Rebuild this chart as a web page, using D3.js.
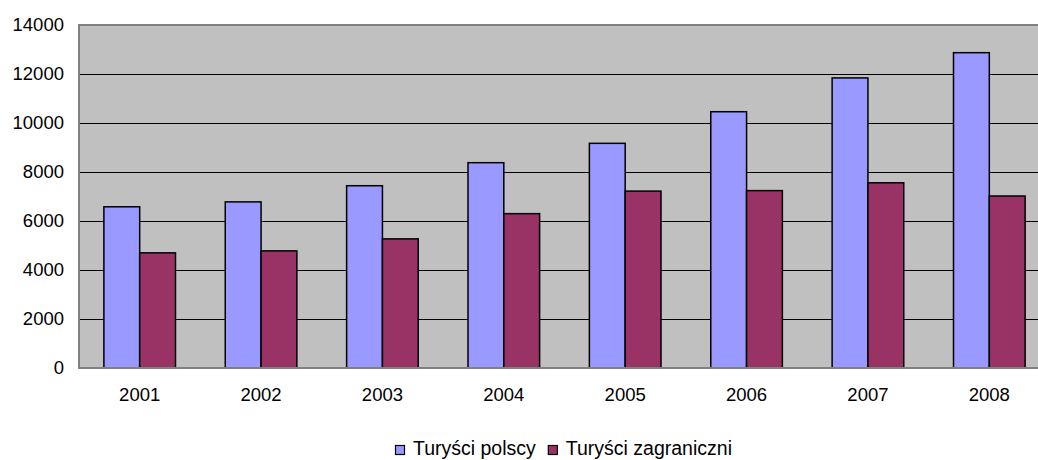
<!DOCTYPE html>
<html>
<head>
<meta charset="utf-8">
<script src="https://cdn.jsdelivr.net/npm/d3@7"></script>
<style>
  body { margin: 0; background: #fff; }
  svg { display: block; font-family: "Liberation Sans", Arial, sans-serif; }
</style>
</head>
<body>
<div id="chart"></div>
<script>
// Data
const years = ["2001", "2002", "2003", "2004", "2005", "2006", "2007", "2008"];
const polscy = [6580, 6780, 7440, 8380, 9170, 10460, 11840, 12870];
const zagraniczni = [4700, 4780, 5270, 6300, 7220, 7240, 7560, 7020];
const seriesNames = ["Turyści polscy", "Turyści zagraniczni"];
const yTicks = [0, 2000, 4000, 6000, 8000, 10000, 12000, 14000];

let width = 1038, height = 460;
let margin = { top: 25, bottom: 92, left: 79, right: -12 };

const colors = ["#9999FF", "#993366"];

let svg = d3.select("#chart")
            .append("svg")
            .attr("width", width)
            .attr("height", height);

// Scales
const x0 = d3.scaleBand()
             .domain(years)
             .range([margin.left, width - margin.right])
             .paddingInner(0.41)
             .paddingOuter(0.205);

const x1 = d3.scaleBand()
             .domain(seriesNames)
             .range([0, x0.bandwidth()]);

const y = d3.scaleLinear()
            .domain([0, 14000])
            .range([height - margin.bottom, margin.top]);

// Plot background
svg.append("rect")
   .attr("x", margin.left)
   .attr("y", margin.top)
   .attr("width", width - margin.right - margin.left)
   .attr("height", height - margin.bottom - margin.top)
   .attr("fill", "#C0C0C0");

// Gridlines
svg.selectAll("line.grid")
   .data(yTicks.filter(d => d > 0 && d < 14000))
   .enter()
   .append("line")
   .attr("class", "grid")
   .attr("x1", margin.left)
   .attr("x2", width - margin.right)
   .attr("y1", d => Math.round(y(d)) + 0.5)
   .attr("y2", d => Math.round(y(d)) + 0.5)
   .attr("stroke", "#000")
   .attr("stroke-width", 1);

// Bars
const rows = years.map((yr, i) => ({ year: yr, values: [polscy[i], zagraniczni[i]] }));

const groups = svg.selectAll("g.bar")
   .data(rows)
   .enter()
   .append("g")
   .attr("transform", d => `translate(${x0(d.year)},0)`);

groups.selectAll("rect")
   .data(d => d.values.map((v, k) => ({ name: seriesNames[k], value: v, k: k })))
   .enter()
   .append("rect")
   .attr("x", d => x1(d.name))
   .attr("y", d => y(d.value))
   .attr("width", x1.bandwidth())
   .attr("height", d => y(0) - y(d.value))
   .attr("fill", d => colors[d.k])
   .attr("stroke", "#000")
   .attr("stroke-width", 1.5);

// Plot border (top, left, bottom in gray)
svg.append("path")
   .attr("d", `M${width - margin.right},${margin.top} H${margin.left} V${height - margin.bottom} H${width - margin.right}`)
   .attr("fill", "none")
   .attr("stroke", "#808080")
   .attr("stroke-width", 2);

// Y axis
let yaxis = svg.append("g")
   .attr("transform", `translate(${margin.left - 15},0)`)
   .call(d3.axisLeft(y).tickValues(yTicks).tickFormat(d3.format("d")).tickSize(0).tickPadding(0));
yaxis.select(".domain").remove();
yaxis.selectAll("text")
   .attr("font-size", "18.5px")
   .attr("font-family", "Liberation Sans, Arial, sans-serif")
   .attr("fill", "#000");

// X axis
let xaxis = svg.append("g")
   .attr("transform", `translate(0, ${height - margin.bottom})`)
   .call(d3.axisBottom(x0).tickSize(0).tickPadding(20));
xaxis.select(".domain").remove();
xaxis.selectAll("text")
   .attr("font-size", "18.5px")
   .attr("font-family", "Liberation Sans, Arial, sans-serif")
   .attr("fill", "#000");

// Legend
const legend = svg.append("g").attr("transform", "translate(395, 445)");
let lx = 0;
seriesNames.forEach((name, i) => {
  legend.append("rect")
        .attr("x", lx + 0.5)
        .attr("y", 0.5)
        .attr("width", 9)
        .attr("height", 9)
        .attr("fill", colors[i])
        .attr("stroke", "#000")
        .attr("stroke-width", 1.2);
  const t = legend.append("text")
        .attr("x", lx + 18)
        .attr("y", 10)
        .attr("font-size", "19.5px")
        .text(name);
  lx += 18 + t.node().getComputedTextLength() + 12;
});
</script>
</body>
</html>
